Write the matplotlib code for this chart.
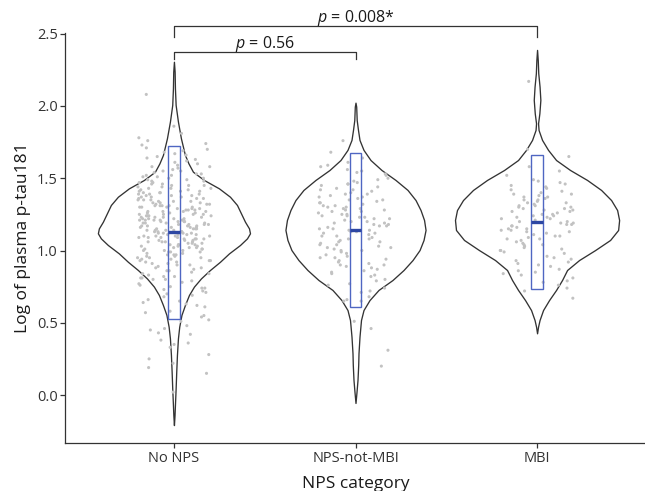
import matplotlib
matplotlib.use("Agg")
import matplotlib.pyplot as plt
import numpy as np

plt.rcParams['font.family'] = ['Open Sans', 'DejaVu Sans']
plt.rcParams['mathtext.fontset'] = 'custom'
plt.rcParams['mathtext.it'] = 'Open Sans:italic'
plt.rcParams['mathtext.rm'] = 'Open Sans'

# ---------------- data ----------------
categories = ['No NPS', 'NPS-not-MBI', 'MBI']

nonps_values = [
    2.08,
    1.86, 1.81,
    1.78, 1.76, 1.74, 1.73, 1.71, 1.70,
    1.69, 1.68, 1.67, 1.66, 1.65, 1.64, 1.63, 1.62, 1.61, 1.60,
    1.59, 1.58, 1.58, 1.57, 1.56, 1.55, 1.55, 1.54, 1.53, 1.53, 1.52, 1.52, 1.51, 1.51, 1.50, 1.50,
    1.49, 1.49, 1.48, 1.48, 1.47, 1.47, 1.46, 1.46, 1.45, 1.45, 1.45, 1.44, 1.44, 1.43, 1.43, 1.43,
    1.42, 1.42, 1.41, 1.41, 1.41, 1.40, 1.40, 1.40,
    1.39, 1.39, 1.39, 1.38, 1.38, 1.38, 1.37, 1.37, 1.37, 1.36, 1.36, 1.36, 1.35, 1.35, 1.35, 1.34,
    1.34, 1.34, 1.33, 1.33, 1.33, 1.32, 1.32, 1.32, 1.31, 1.31, 1.31, 1.30, 1.30, 1.30, 1.30, 1.31,
    1.29, 1.29, 1.29, 1.28, 1.28, 1.28, 1.27, 1.27, 1.27, 1.26, 1.26, 1.26, 1.25, 1.25, 1.25, 1.25,
    1.24, 1.24, 1.24, 1.23, 1.23, 1.23, 1.23, 1.22, 1.22, 1.22, 1.22, 1.21, 1.21, 1.21, 1.21,
    1.20, 1.20, 1.20, 1.20, 1.27, 1.24, 1.21,
    1.19, 1.19, 1.19, 1.19, 1.18, 1.18, 1.18, 1.18, 1.17, 1.17, 1.17, 1.17, 1.16, 1.16, 1.16, 1.16,
    1.15, 1.15, 1.15, 1.15, 1.14, 1.14, 1.14, 1.14, 1.13, 1.13, 1.13, 1.13, 1.12, 1.12, 1.12, 1.12,
    1.11, 1.11, 1.11, 1.11, 1.10, 1.10, 1.10, 1.10,
    1.09, 1.09, 1.09, 1.09, 1.08, 1.08, 1.08, 1.08, 1.07, 1.07, 1.07, 1.06, 1.06, 1.06, 1.06,
    1.05, 1.05, 1.05, 1.04, 1.04, 1.04, 1.04, 1.03, 1.03, 1.03, 1.02, 1.02, 1.02, 1.01, 1.01, 1.01,
    1.00, 1.00, 1.00,
    0.99, 0.99, 0.99, 0.98, 0.98, 0.97, 0.97, 0.97, 0.96, 0.96, 0.95, 0.95, 0.95, 0.94, 0.94,
    0.93, 0.93, 0.93, 0.92, 0.92, 0.91, 0.91, 0.90, 0.90,
    0.89, 0.88, 0.88, 0.87, 0.86, 0.86, 0.85, 0.84, 0.84, 0.83, 0.82, 0.82, 0.81, 0.81, 0.80, 0.80,
    0.79, 0.78, 0.77, 0.76, 0.75, 0.74, 0.74, 0.73, 0.72, 0.71, 0.70,
    0.69, 0.68, 0.66, 0.65, 0.64, 0.63, 0.62, 0.61,
    0.58, 0.57, 0.55, 0.54, 0.52, 0.51,
    0.48, 0.46, 0.45, 0.43, 0.42,
    0.38, 0.36, 0.35, 0.33,
    0.28, 0.25, 0.22,
    0.19, 0.15,
    0.02,
]

npsnotmbi_values = [
    1.76,
    1.68, 1.64, 1.61,
    1.59, 1.58, 1.56, 1.55, 1.54, 1.53, 1.52, 1.50,
    1.49, 1.48, 1.47, 1.46, 1.46, 1.45, 1.44, 1.43, 1.42, 1.42, 1.41, 1.40,
    1.39, 1.39, 1.38, 1.37, 1.37, 1.36, 1.35, 1.35, 1.34, 1.33, 1.33, 1.32, 1.31, 1.31, 1.30, 1.30,
    1.29, 1.29, 1.28, 1.28, 1.27, 1.27, 1.26, 1.25, 1.25, 1.24, 1.24, 1.23, 1.23, 1.22, 1.22, 1.21,
    1.20, 1.20,
    1.19, 1.19, 1.18, 1.18, 1.17, 1.17, 1.16, 1.15, 1.15, 1.14, 1.14, 1.13, 1.13, 1.12, 1.12, 1.11,
    1.10, 1.10,
    1.09, 1.08, 1.08, 1.07, 1.06, 1.06, 1.05, 1.04, 1.04, 1.03, 1.02, 1.02, 1.01, 1.00, 1.00,
    0.99, 0.98, 0.97, 0.96, 0.95, 0.95, 0.94, 0.93, 0.92, 0.91, 0.90, 0.90,
    0.89, 0.88, 0.87, 0.86, 0.85, 0.84, 0.83, 0.82, 0.80,
    0.79, 0.77, 0.76, 0.74, 0.72, 0.71,
    0.68, 0.66, 0.65, 0.65,
    0.51, 0.46, 0.31, 0.20,
]

mbi_values = [
    2.17,
    1.70, 1.65,
    1.58, 1.55, 1.52,
    1.49, 1.48, 1.47, 1.46, 1.45, 1.44, 1.43, 1.42, 1.41, 1.40,
    1.39, 1.39, 1.38, 1.37, 1.37, 1.36, 1.35, 1.35, 1.34, 1.33, 1.33, 1.32, 1.31, 1.31, 1.30, 1.30,
    1.29, 1.29, 1.28, 1.28, 1.27, 1.27, 1.26, 1.25, 1.25, 1.24, 1.24, 1.23, 1.23, 1.22, 1.22, 1.21,
    1.20, 1.20,
    1.19, 1.19, 1.18, 1.18, 1.17, 1.17, 1.16, 1.15, 1.15, 1.14, 1.14, 1.13, 1.13, 1.12, 1.11, 1.10,
    1.10,
    1.09, 1.08, 1.08, 1.07, 1.06, 1.05, 1.04, 1.04, 1.03, 1.02, 1.01, 1.00, 1.00,
    0.99, 0.98, 0.96, 0.95, 0.94, 0.93, 0.92, 0.91, 0.90,
    0.89, 0.87, 0.86, 0.85, 0.84, 0.83, 0.81,
    0.79, 0.78, 0.76, 0.74, 0.72,
    0.67,
]

# violin density profiles (grid of log p-tau181 values, relative density)
nonps_grid = [-0.208, -0.138, -0.069, 0.046, 0.161, 0.277, 0.392, 0.473, 0.554, 0.623, 0.692,
              0.750, 0.807, 0.865, 0.922, 0.980, 1.038, 1.084, 1.119, 1.153, 1.199, 1.257,
              1.315, 1.372, 1.430, 1.488, 1.545, 1.603, 1.661, 1.718, 1.776, 1.834, 1.892,
              2.007, 2.122, 2.237, 2.306]
nonps_dens = [0, 0.6, 1.0, 1.7, 2.3, 3.0, 4.0, 5.3, 7.5, 11, 15,
              20, 27, 36, 46, 55, 66, 73, 76, 75, 71, 67,
              63, 56, 45, 30, 19, 14.5, 11, 9, 7, 5.5, 4,
              1.7, 1.0, 0.7, 0]

npsnotmbi_grid = [-0.055, 0.021, 0.104, 0.208, 0.289, 0.404, 0.519, 0.588, 0.657, 0.727,
                  0.796, 0.865, 0.934, 1.003, 1.073, 1.142, 1.211, 1.280, 1.349, 1.419,
                  1.488, 1.557, 1.626, 1.696, 1.765, 1.834, 1.903, 1.995, 2.023]
npsnotmbi_dens = [0, 1.0, 2.0, 2.7, 3.0, 4.0, 5.5, 8, 14, 23,
                  37, 48, 57, 64, 68, 70, 68.5, 65, 60, 52,
                  40, 26, 15, 8, 4, 2.5, 1.2, 0.7, 0]

mbi_grid = [0.427, 0.473, 0.519, 0.588, 0.657, 0.727, 0.796, 0.865, 0.934, 1.003, 1.073,
            1.142, 1.211, 1.280, 1.349, 1.419, 1.488, 1.557, 1.626, 1.696, 1.765, 1.834,
            1.880, 1.949, 2.042, 2.134, 2.226, 2.318, 2.388]
mbi_dens = [0, 1, 2.5, 6, 12, 19, 25, 30, 42, 58, 73,
            81, 82, 80, 74, 64, 50, 33, 19, 11, 5, 1.5,
            1.0, 2.3, 3.3, 2.5, 1.2, 0.7, 0]

# box summaries
box_low = [0.526, 0.611, 0.736]
box_high = [1.722, 1.673, 1.663]
box_median = [1.125, 1.142, 1.200]

# pairwise comparisons: (group a, group b, label)
comparisons = [(0, 1, '$p$ = 0.56'), (0, 2, '$p$ = 0.008*')]
bracket_top = [2.376, 2.550]
bracket_drop = [2.323, 2.480]

# ---------------- plot ----------------
fig = plt.figure(figsize=(6.45, 4.91), dpi=100)
ax = fig.add_axes([65 / 645, 47.7 / 491, 581 / 645, 410.6 / 491])

positions = np.arange(1, len(categories) + 1)
grids = [nonps_grid, npsnotmbi_grid, mbi_grid]
denss = [nonps_dens, npsnotmbi_dens, mbi_dens]
values = [nonps_values, npsnotmbi_values, mbi_values]

gmax = max(max(d) for d in denss)
vpstats = []
widths = []
for g, d, v in zip(grids, denss, values):
    vpstats.append(dict(coords=np.array(g), vals=np.array(d, dtype=float),
                        mean=float(np.mean(v)), median=float(np.median(v)),
                        min=g[0], max=g[-1]))
    widths.append(0.904 * max(d) / gmax)

parts = ax.violin(vpstats, positions=positions, widths=widths,
                  showmeans=False, showextrema=False, showmedians=False)
for body in parts['bodies']:
    body.set_facecolor('white')
    body.set_edgecolor('#333333')
    body.set_linewidth(0.95)
    body.set_alpha(1)
    body.set_zorder(1)

rng = np.random.default_rng(11)
for pos, v in zip(positions, values):
    xj = pos + rng.uniform(-0.205, 0.205, len(v))
    ax.scatter(xj, v, s=5, color='#c2c2c2', edgecolors='none', zorder=2)

box_w = 0.062
ax.bar(positions, np.array(box_high) - np.array(box_low), bottom=box_low, width=box_w,
       fill=False, edgecolor='#4f66c2', linewidth=1.0, zorder=3)
ax.hlines(box_median, positions - box_w / 2, positions + box_w / 2,
          color='#2d47a3', linewidth=2.4, zorder=4)

for (a, b, lab), top, drop in zip(comparisons, bracket_top, bracket_drop):
    xa, xb = positions[a], positions[b]
    ax.plot([xa, xa, xb, xb], [drop, top, top, drop], color='#333333',
            linewidth=0.9, clip_on=False, zorder=5)
    ax.text((xa + xb) / 2, top + 0.028, lab, ha='center', va='baseline',
            fontsize=11.5, color='#1a1a1a', clip_on=False)

ax.set_xlim(0.4, 3.6)
ax.set_ylim(-0.334, 2.507)
ax.set_xticks(positions)
ax.set_xticklabels(categories)
ax.set_yticks([0.0, 0.5, 1.0, 1.5, 2.0, 2.5])
ax.set_yticklabels(['%.1f' % t for t in [0.0, 0.5, 1.0, 1.5, 2.0, 2.5]])

for s in ['top', 'right']:
    ax.spines[s].set_visible(False)
for s in ['left', 'bottom']:
    ax.spines[s].set_color('#333333')
    ax.spines[s].set_linewidth(0.9)
ax.tick_params(axis='both', direction='out', length=3.3, width=0.9, color='#333333',
               labelsize=10.5, labelcolor='#333333')
ax.tick_params(axis='x', pad=2.5)
ax.tick_params(axis='y', pad=2.0)

ax.set_xlabel('NPS category', fontsize=12.5, color='#1a1a1a')
ax.set_ylabel('Log of plasma p-tau181', fontsize=12.5, color='#1a1a1a')
ax.xaxis.set_label_coords(0.5, -0.079)
ax.yaxis.set_label_coords(-0.058, 0.5)

fig.savefig('out.png', dpi=100)
